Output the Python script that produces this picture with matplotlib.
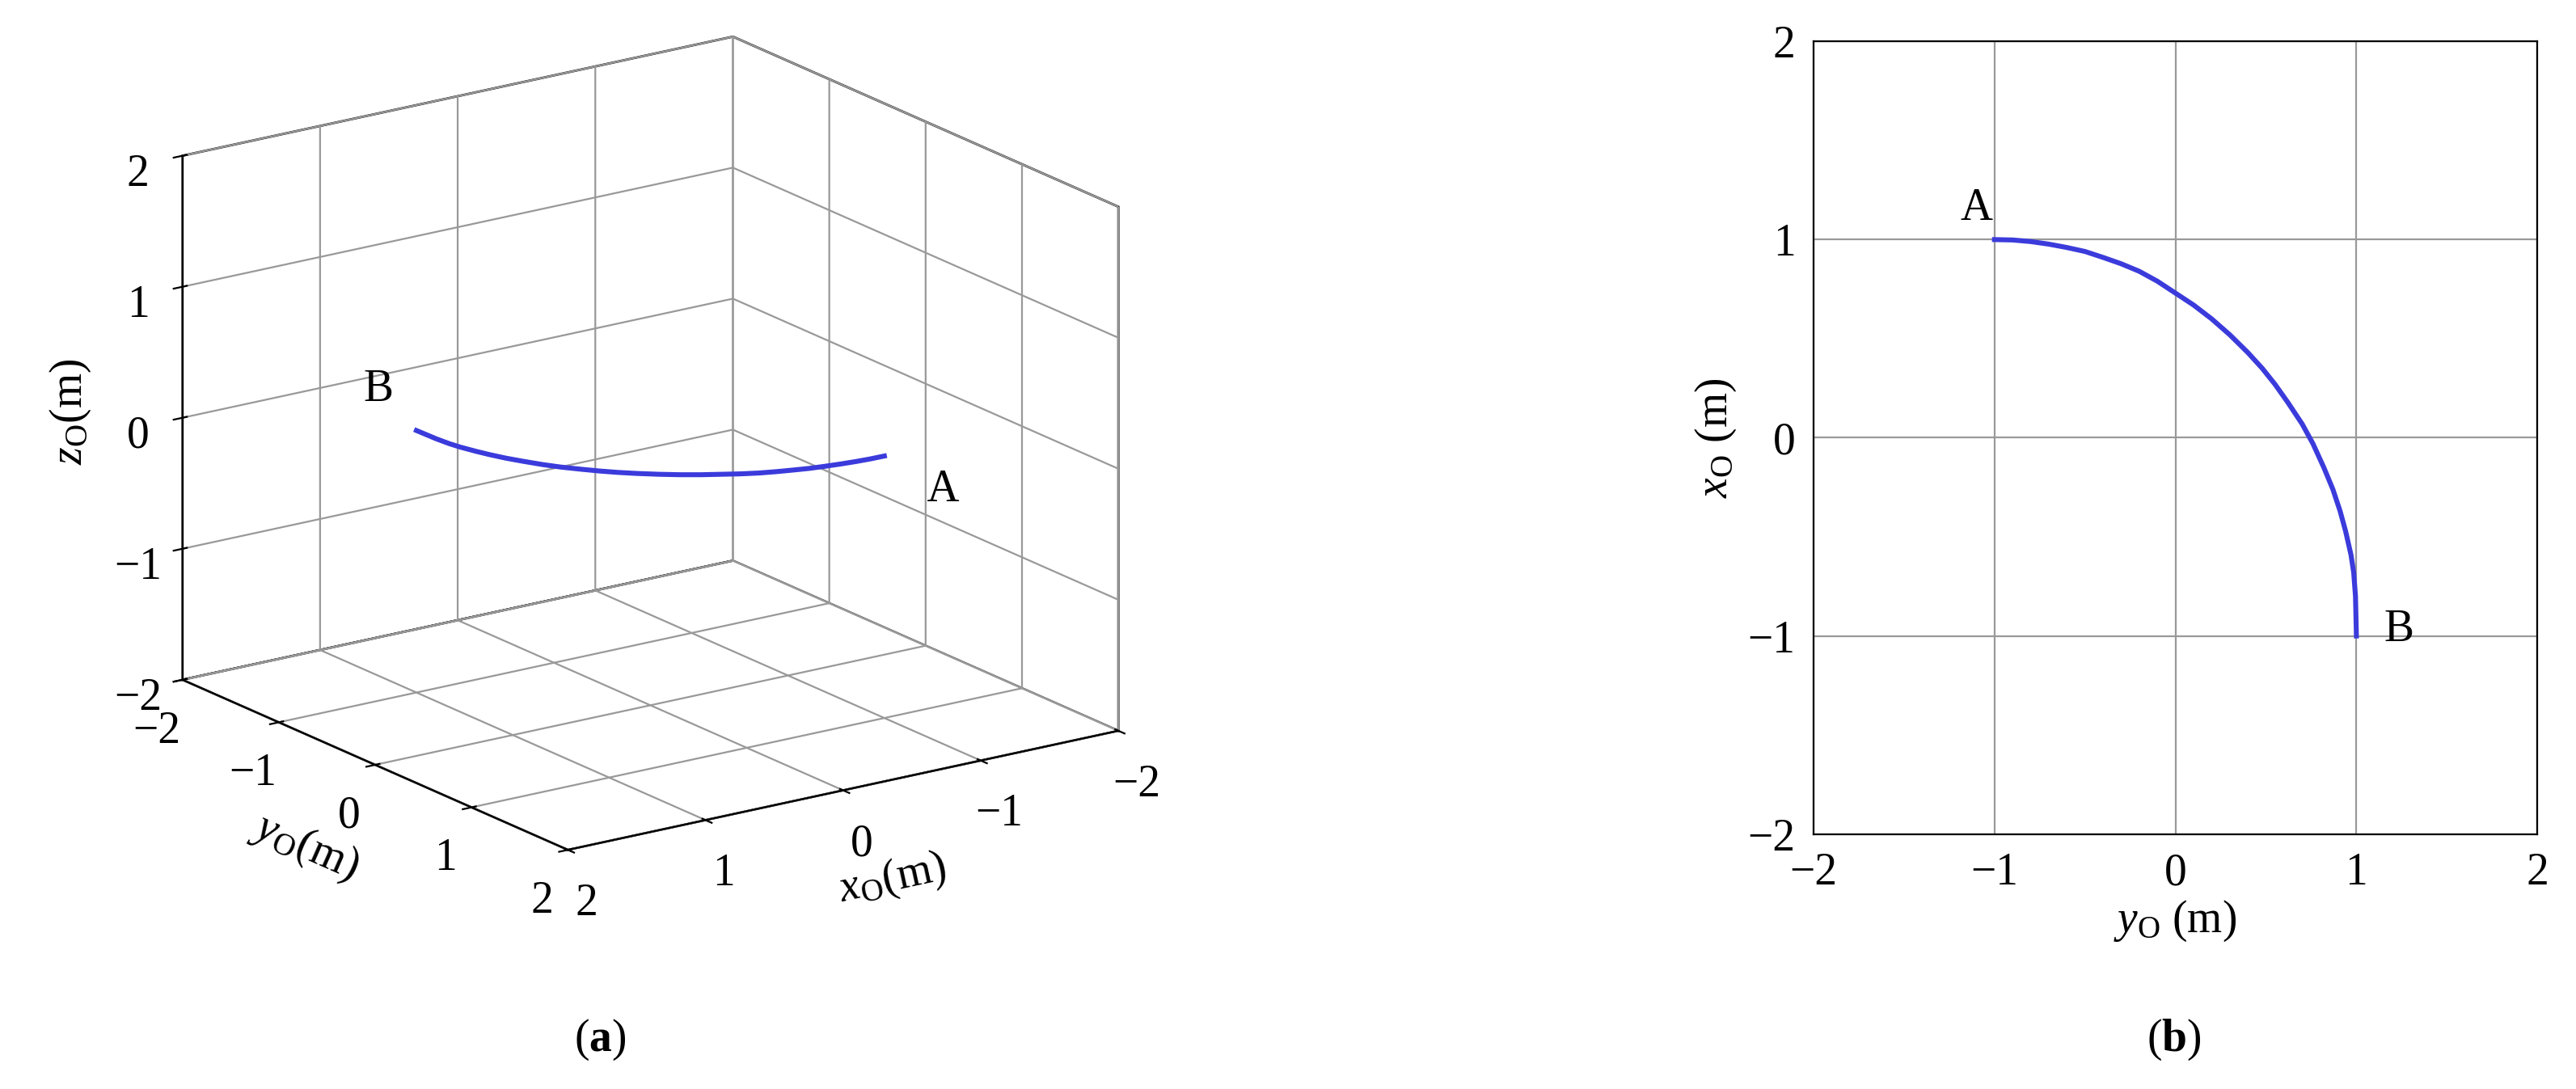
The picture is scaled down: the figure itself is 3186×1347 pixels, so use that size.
import matplotlib
matplotlib.use("Agg")
import matplotlib.pyplot as plt

plt.rcParams['font.family'] = ['Liberation Serif', 'DejaVu Serif']
plt.rcParams['mathtext.fontset'] = 'custom'
plt.rcParams['mathtext.rm'] = 'Liberation Serif'
plt.rcParams['mathtext.it'] = 'Liberation Serif:italic'
plt.rcParams['mathtext.bf'] = 'Liberation Serif:bold'

# path: horizontal y_O, vertical x_O
path_y = [-1.00, -0.90, -0.80, -0.70, -0.60, -0.50, -0.40, -0.30, -0.20, -0.10, 0.00, 0.10, 0.20,
          0.30, 0.40, 0.48, 0.55, 0.62, 0.70, 0.76, 0.82, 0.87, 0.91, 0.94, 0.97, 0.985, 0.995, 1.00]
path_x = [1.00, 0.998, 0.99, 0.977, 0.96, 0.94, 0.91, 0.878, 0.84, 0.79, 0.73, 0.67, 0.60,
          0.52, 0.43, 0.35, 0.27, 0.18, 0.07, -0.03, -0.15, -0.26, -0.37, -0.47, -0.59, -0.68, -0.80, -1.00]
path_z = [0.0] * len(path_y)
ticks = [-2, -1, 0, 1, 2]
line_color = '#3b3bdc'
fs = 20
grid_c = (0.6, 0.6, 0.6, 1)

fig = plt.figure(figsize=(15.93, 6.735), dpi=200)

# ---- panel (a)
ax = fig.add_axes([0.012, 0.1, 0.47, 0.96], projection='3d')
ax.set_proj_type('ortho')
ax.view_init(elev=18, azim=55)
ax.set_box_aspect((1, 1, 0.82), zoom=1.02)
ax.plot(path_y, path_x, path_z, color=line_color, lw=2.2)
ax.text(path_y[0], path_x[0], -0.1, '    A', fontsize=fs, va='top', ha='left')
ax.text(path_y[-1], path_x[-1], 0.15, 'B  ', fontsize=fs, va='bottom', ha='right')
for a in (ax.xaxis, ax.yaxis, ax.zaxis):
    a.set_pane_color((1, 1, 1, 1))
    a._axinfo['grid']['color'] = grid_c
    a._axinfo['grid']['linewidth'] = 0.8
    a.pane.set_edgecolor('black')
    a.line.set_color('black')
ax.set_xlim(-2, 2); ax.set_ylim(-2, 2); ax.set_zlim(-2, 2)
ax.set_xticks(ticks); ax.set_yticks(ticks); ax.set_zticks(ticks)
ax.tick_params(labelsize=fs)
ax.set_xlabel(r'$x_{\mathrm{O}}$(m)', fontsize=fs, labelpad=10)
ax.set_ylabel(r'$y_{\mathrm{O}}$(m)', fontsize=fs, labelpad=10)
ax.set_zlabel(r'$z_{\mathrm{O}}$(m)', fontsize=fs, labelpad=8)
fig.text(0.233, 0.035, r'($\mathbf{a}$)', fontsize=fs, ha='center')

# ---- panel (b)
bx = fig.add_axes([0.704, 0.234, 0.281, 0.728])
bx.plot(path_y, path_x, color=line_color, lw=2.2)
bx.set_xlim(-2, 2); bx.set_ylim(-2, 2)
bx.set_xticks(ticks); bx.set_yticks(ticks)
bx.grid(True, color=grid_c, lw=0.8)
bx.tick_params(labelsize=fs, length=0, pad=8)
bx.text(-1.1, 1.05, 'A', fontsize=fs, ha='center', va='bottom')
bx.text(1.15, -0.97, 'B', fontsize=fs, ha='left', va='center')
bx.set_xlabel(r'$y_{\mathrm{O}}$ (m)', fontsize=fs, labelpad=2)
bx.set_ylabel(r'$x_{\mathrm{O}}$ (m)', fontsize=fs, labelpad=4)
fig.text(0.844, 0.035, r'($\mathbf{b}$)', fontsize=fs, ha='center')

fig.savefig('out.png', dpi=200)
